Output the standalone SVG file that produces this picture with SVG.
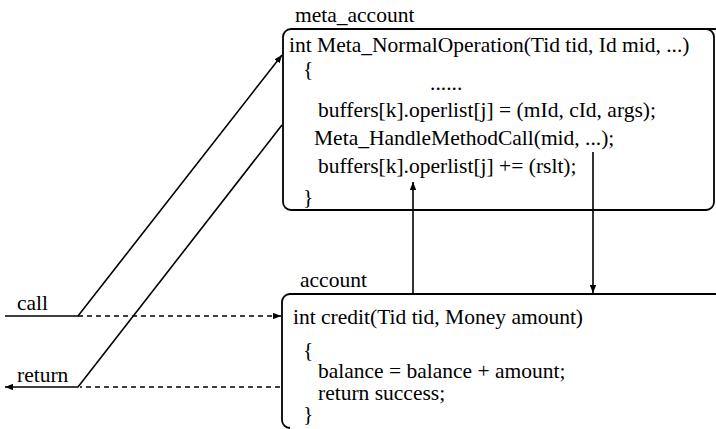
<svg xmlns="http://www.w3.org/2000/svg" width="716" height="429" viewBox="0 0 716 429">
<defs>
<marker id="ah" viewBox="0 0 10 8" refX="10" refY="4" markerWidth="8" markerHeight="6.4" markerUnits="userSpaceOnUse" orient="auto">
<path d="M0,0 L10,4 L0,8 Z" fill="#000"/>
</marker>
<style>
text{font-family:"Liberation Serif","Times New Roman",serif;font-size:21.5px;fill:#000}
.box{fill:none;stroke:#000;stroke-width:1.8}
.ln{fill:none;stroke:#000;stroke-width:1.6}
.dash{fill:none;stroke:#000;stroke-width:1.5;stroke-dasharray:5 4}
</style>
</defs>
<rect width="716" height="429" fill="#fff"/>
<g id="meta_account">
<text x="295" y="22">meta_account</text>
<path class="box" d="M716,29 H291 A8,8 0 0 0 283,37 V202 A8,8 0 0 0 291,210 H706 A8,8 0 0 0 714,202 V37 A8,8 0 0 0 706,29"/>
<text x="289" y="52">int Meta_NormalOperation(Tid tid, Id mid, ...)</text>
<text x="303" y="76">{</text>
<text x="430" y="90">......</text>
<text x="318" y="117">buffers[k].operlist[j] = (mId, cId, args);</text>
<text x="314" y="145">Meta_HandleMethodCall(mid, ...);</text>
<text x="318" y="173">buffers[k].operlist[j] += (rslt);</text>
<text x="303" y="204">}</text>
</g>
<g id="account">
<text x="300" y="287">account</text>
<path class="box" d="M716,294 H290 A8,8 0 0 0 282,302 V420 A8,8 0 0 0 290,428"/>
<text x="293" y="324">int credit(Tid tid, Money amount)</text>
<text x="303" y="357">{</text>
<text x="318" y="378">balance = balance + amount;</text>
<text x="318" y="400">return success;</text>
<text x="303" y="421">}</text>
</g>
<g id="labels">
<text x="17" y="310">call</text>
<text x="17" y="382">return</text>
</g>
<g id="connectors">
<polyline class="ln" points="5,316 78,316 282,55" marker-end="url(#ah)"/>
<line class="dash" x1="78" y1="316" x2="281" y2="316" marker-end="url(#ah)"/>
<polyline class="ln" points="282,125 78,387 5,387" marker-end="url(#ah)"/>
<line class="dash" x1="280" y1="387" x2="80" y2="387"/>
<line class="ln" x1="413" y1="293" x2="413" y2="182" marker-end="url(#ah)"/>
<line class="ln" x1="593" y1="152" x2="593" y2="293" marker-end="url(#ah)"/>
</g>
</svg>
